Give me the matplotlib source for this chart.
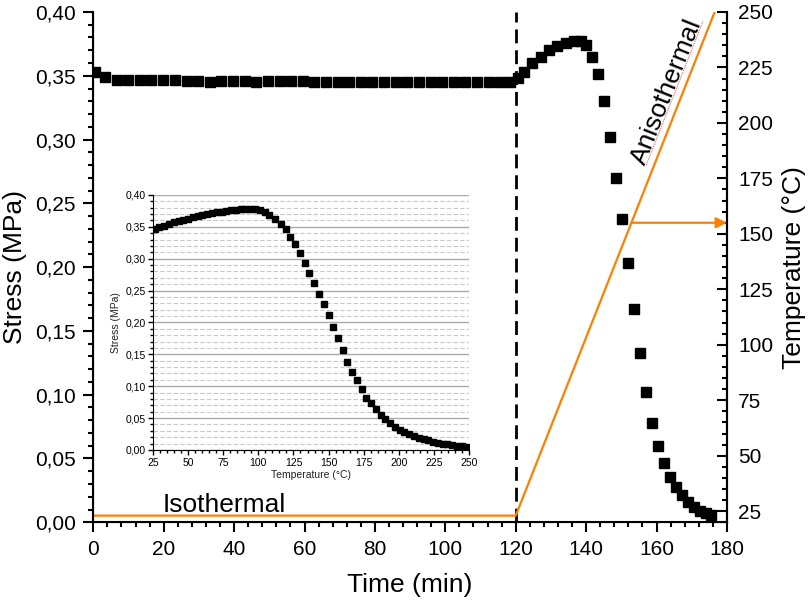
import matplotlib.pyplot as plt
import numpy as np
import matplotlib.transforms as mtransforms
from matplotlib.ticker import MultipleLocator, FuncFormatter

plt.rcParams['font.family'] = ['Liberation Sans', 'DejaVu Sans']

# stress relaxation run: time (min) and stress (MPa)
time_min = [0.5, 3.3, 6.6, 9.9, 13.2, 16.5, 19.8, 23.1, 26.5, 29.8, 33.1, 36.4,
            39.7, 43.0, 46.3, 49.6, 52.9, 56.2, 59.5, 62.8, 66.1, 69.4, 72.7,
            76.0, 79.3, 82.6, 85.9, 89.2, 92.5, 95.8, 99.1, 102.4, 105.7, 109.0,
            112.3, 115.6, 118.5,
            120.5, 122.4, 124.7, 127.1, 129.5, 131.8, 134.2, 136.6, 138.5, 140.0,
            141.8, 143.3, 145.1, 146.8, 148.5, 150.1, 151.9, 153.6, 155.3, 157.0,
            158.6, 160.3, 162.0, 163.7, 165.4, 167.1, 168.8, 170.5, 172.2, 173.9,
            175.6]
stress = [0.353, 0.349, 0.347, 0.3465, 0.3465, 0.3465, 0.3465, 0.3465, 0.3462,
          0.3462, 0.3455, 0.346, 0.346, 0.346, 0.3455, 0.346, 0.346, 0.346,
          0.346, 0.3455, 0.3455, 0.3455, 0.3455, 0.3455, 0.3455, 0.3455, 0.3455,
          0.3455, 0.3455, 0.3455, 0.3455, 0.3455, 0.3455, 0.3455, 0.3455, 0.3455,
          0.3455,
          0.348, 0.353, 0.360, 0.365, 0.370, 0.373, 0.3755, 0.377, 0.377, 0.374,
          0.365, 0.351, 0.330, 0.302, 0.270, 0.238, 0.203, 0.167, 0.133, 0.102,
          0.078, 0.060, 0.0465, 0.0355, 0.028, 0.0215, 0.016, 0.012, 0.009,
          0.007, 0.0055]

# temperature program: isothermal hold, then ramp
temp_time = [0, 120, 176.5]
temp_c = [23, 23, 250]
ramp_start = 120
arrow_temp = 155

# stress vs temperature during the ramp (inset)
ramp_temp = [26.2, 29.6, 33.0, 36.4, 39.8, 43.2, 46.6, 50.0, 53.4, 56.8, 60.2,
             63.6, 67.0, 70.4, 73.8, 77.2, 80.6, 84.0, 87.4, 90.8, 94.2, 97.6,
             101.0, 104.4, 107.8, 112.2, 116.0, 119.6, 122.4, 126.2, 129.8,
             132.9, 136.2, 139.8, 143.3, 146.7, 150.0, 153.3, 156.6, 160.0,
             163.3, 166.8, 170.2, 173.7, 176.8, 180.2, 183.5, 187.0, 190.4,
             193.9, 197.3, 200.6, 203.9, 207.5, 210.8, 214.1, 217.7, 221.0,
             224.4, 227.8, 231.2, 234.6, 238.0, 241.4, 244.8, 248.2]
ramp_stress = [0.347, 0.349, 0.352, 0.354, 0.357, 0.359, 0.361, 0.363, 0.365,
               0.367, 0.369, 0.370, 0.372, 0.373, 0.374, 0.375, 0.376, 0.377,
               0.3775, 0.378, 0.378, 0.378, 0.377, 0.374, 0.369, 0.362, 0.354,
               0.346, 0.3346, 0.323, 0.3095, 0.294, 0.278, 0.2614, 0.2447,
               0.2285, 0.2118, 0.1935, 0.1752, 0.1569, 0.1386, 0.1229, 0.1098,
               0.0957, 0.0821, 0.073, 0.064, 0.055, 0.048, 0.042, 0.036, 0.032,
               0.028, 0.025, 0.022, 0.019, 0.017, 0.015, 0.013, 0.011, 0.010,
               0.009, 0.008, 0.007, 0.006, 0.005]

orange = '#ff7f00'


def comma(v, pos):
    return f"{v:.2f}".replace('.', ',')


fig = plt.figure(figsize=(8.11, 6.08), dpi=100)
ax = fig.add_axes([0.115, 0.141, 0.7814, 0.8393])

ax.plot(time_min, stress, 's', color='black', ms=7.5, zorder=3)
ax.axvline(ramp_start, color='black', lw=2, ls=(0, (5, 2.5)))

ax.set_xlim(0, 180)
ax.set_ylim(0, 0.40)
ax.xaxis.set_major_locator(MultipleLocator(20))
ax.xaxis.set_minor_locator(MultipleLocator(4))
ax.yaxis.set_major_locator(MultipleLocator(0.05))
ax.yaxis.set_minor_locator(MultipleLocator(0.01))
ax.yaxis.set_major_formatter(FuncFormatter(comma))
ax.tick_params(which='major', direction='out', length=7.5, width=1.5, labelsize=15, pad=5)
ax.tick_params(which='minor', direction='out', length=3.5, width=1.5)
ax.set_xlabel('Time (min)', fontsize=19, labelpad=10)
ax.set_ylabel('Stress (MPa)', fontsize=19, labelpad=6)
ax.spines['top'].set_visible(False)
for s in ['left', 'bottom', 'right']:
    ax.spines[s].set_linewidth(1.5)

ax.text(19.8, 0.008, 'Isothermal', fontsize=19, va='baseline')
ax.text(162.9, 0.3373, 'Anisothermal', fontsize=19, rotation=68.4,
        ha='center', va='center')

# temperature axis
ax2 = ax.twinx()
ax2.plot(temp_time, temp_c, color=orange, lw=1.6)
t_arrow = np.interp(arrow_temp, temp_c[1:], temp_time[1:])
ax2.annotate('', xy=(180, arrow_temp), xytext=(t_arrow, arrow_temp),
             arrowprops=dict(arrowstyle='-|>', color=orange, lw=1.6,
                             mutation_scale=16, shrinkA=0, shrinkB=0))
# spell-check underline next to the ramp label
sq_t = np.interp([181, 246], temp_c[1:], temp_time[1:])
shift = mtransforms.ScaledTranslation(-0.08, 0, fig.dpi_scale_trans)
ax2.plot(sq_t, [181, 246], color='#e84a4a', lw=0.7, ls=(0, (1, 1)),
         transform=ax2.transData + shift)

ax2.set_ylim(20, 250)
ax2.yaxis.set_major_locator(MultipleLocator(25))
ax2.yaxis.set_minor_locator(MultipleLocator(5))
ax2.tick_params(which='major', direction='in', length=7.5, width=1.5, labelsize=15, pad=8)
ax2.tick_params(which='minor', direction='in', length=3.5, width=1.5)
ax2.set_ylabel('Temperature (°C)', fontsize=19, labelpad=6)
ax2.spines['top'].set_visible(False)
ax2.spines['right'].set_linewidth(1.5)

# inset: stress against temperature
ins = fig.add_axes([0.1887, 0.2599, 0.3896, 0.4194], zorder=5)
ins.plot(ramp_temp, ramp_stress, 's', color='black', ms=4.8, zorder=3)
ins.set_xlim(25, 250)
ins.set_ylim(0, 0.40)
ins.xaxis.set_major_locator(MultipleLocator(25))
ins.xaxis.set_minor_locator(MultipleLocator(5))
ins.yaxis.set_major_locator(MultipleLocator(0.05))
ins.yaxis.set_minor_locator(MultipleLocator(0.01))
ins.yaxis.set_major_formatter(FuncFormatter(comma))
ins.grid(which='major', axis='y', color='#aaaaaa', lw=1)
ins.grid(which='minor', axis='y', color='#c8c8c8', lw=0.8, ls=(0, (4, 2)))
ins.set_axisbelow(True)
ins.tick_params(which='major', direction='out', length=3.5, width=1, labelsize=7.5, pad=2)
ins.tick_params(which='minor', direction='out', length=2, width=1)
ins.set_xlabel('Temperature (°C)', fontsize=7.5, labelpad=2, color='#222222')
ins.set_ylabel('Stress (MPa)', fontsize=7.5, labelpad=3, color='#222222')
ins.spines['top'].set_visible(False)
ins.spines['right'].set_visible(False)

fig.savefig('out.png', dpi=100)
